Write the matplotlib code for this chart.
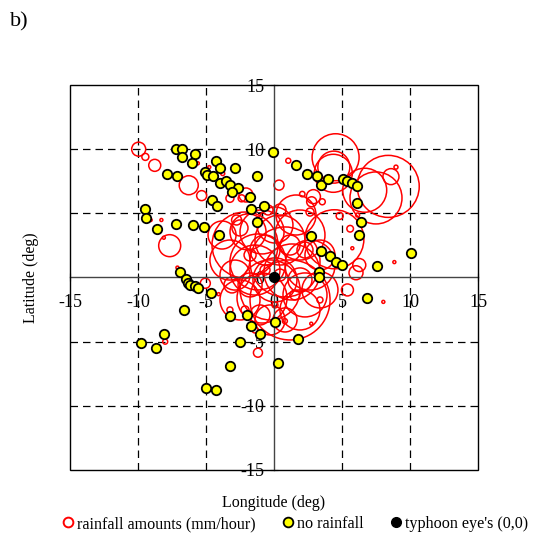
import matplotlib
matplotlib.use("Agg")
import matplotlib.pyplot as plt
from matplotlib.lines import Line2D
from matplotlib.patches import Rectangle

plt.rcParams['font.family'] = ['Liberation Serif', 'DejaVu Serif']
plt.rcParams['axes.unicode_minus'] = False

# ---- data ----
# no-rainfall observations (longitude, latitude relative to typhoon eye)
dry_lon = [-7.2, -6.8, -6.8, -5.8, -6.0, -4.3, -4.0, -2.9, -7.9, -7.1, -5.1, -4.95, -4.5, -1.25,
           -3.95, -3.55, -3.2, -2.65, -3.1, -4.55, -4.2, -1.76, -0.7, -1.7, -1.25, -9.5, -9.4,
           -8.6, -7.2, -5.96, -5.15, -4.07, -6.9, -0.1,
           -6.5, -6.3, -6.2, -5.8, -5.6, -4.65, -6.6, -3.2, -1.96, -1.7, -1.05, 0.07, -2.5,
           -8.07, -9.8, -8.7, -3.2, -5.0, -4.3, 0.3,
           1.76, 6.86, 3.3, 3.3,
           1.64, 2.43, 3.16, 3.46, 3.95, 5.1, 5.34, 5.74, 6.1, 6.1, 6.4, 6.25, 2.74, 3.43,
           4.14, 4.56, 4.98, 7.55, 10.07]
dry_lat = [10.0, 10.0, 9.4, 9.6, 8.9, 9.1, 8.5, 8.5, 8.1, 7.9, 8.2, 8.0, 7.9, 7.9,
           7.4, 7.5, 7.2, 7.0, 6.7, 6.0, 5.6, 6.3, 5.6, 5.3, 4.3, 5.3, 4.6,
           3.8, 4.2, 4.1, 3.9, 3.3, 0.4, 9.8,
           -0.14, -0.4, -0.6, -0.7, -0.8, -1.2, -2.5, -3.0, -2.9, -3.75, -4.4, -3.5, -5.0,
           -4.4, -5.1, -5.5, -6.9, -8.6, -8.8, -6.7,
           -4.8, -1.6, 0.4, 0.0,
           8.8, 8.1, 7.9, 7.2, 7.7, 7.65, 7.5, 7.4, 7.1, 5.8, 4.3, 3.3, 3.2, 2.1,
           1.7, 1.2, 0.97, 0.9, 1.9]

# rainfall observations (longitude, latitude, rainfall mm/hour)
rain_lon = [-9.95, -9.46, -8.77, -6.27, -5.32, -2.38, -2.06, -7.67, -7.1, -8.28, -9.07, -5.6,
            -4.76, -3.77, -8.1, 0.37,
            4.53, 4.36, 4.4, 8.4, 8.6, 8.97, 6.67, 7.5, 4.44, 2.9, 1.05, 2.08, 3.55, 4.83,
            6.15, 5.6, 5.76, 8.85, 6.27, 6.03, 5.4, 8.04, 2.74, 0.8, -5.05, -4.07, -8.0,
            -1.18, -2.3, -2.75, -3.24, 2.77,
            -2.13, -0.88, 1.91, 1.18, -0.29, -1.40, 0.81, 2.65, -3.24, -2.50, 3.38, 0.07,
            -3.82, 1.91, -0.66, 1.91, -1.03, 0.81, -1.76, -3.09, 1.18, 2.28, -2.50, 0.44,
            1.62, -0.44, 2.65,
            -0.66, 0.44, -1.76, 1.54, -2.13, 0.07, 3.38, -3.24, -1.40,
            -1.18, 1.32, 0.07, -0.88, 2.28, -1.91, 3.38, -2.87, 0.44, -0.29]
rain_lat = [10.0, 9.4, 8.74, 7.19, 6.38, 6.17, 6.43, 2.48, 0.77, 4.48, 4.48, 8.9,
            8.6, 8.1, 3.1, 7.2,
            9.37, 8.12, 8.6, 7.1, 7.86, 8.6, 6.8, 6.2, 2.98, 6.3, 9.1, 6.5, 5.9, 4.8,
            4.87, 3.8, 2.28, 1.2, 0.97, 0.37, -0.97, -1.9, -3.6, -3.4, -0.45, -1.3, -5.0,
            -5.86, -5.08, 4.48, 6.17, 5.9,
            2.53, 3.55, 3.31, -1.75, -0.97, 0.58, 1.21, 0.97, 1.36, -1.75, -0.97, 4.09,
            3.31, -2.53, 2.14, -0.19, -2.92, -3.31, -0.58, -0.58, 2.53, 2.14, 3.86, 5.26,
            4.87, 5.26, 5.10,
            0.58, 0.19, 1.75, -1.36, -2.53, -2.14, -1.75, -2.53, -4.09,
            1.21, 0.43, -0.19, -1.60, -1.36, 3.55, 1.75, 0.19, 2.92, -3.31]
rain_mm = [3.5, 1.75, 3.0, 4.75, 2.5, 1.75, 3.5, 5.5, 0.75, 0.75, 0.75, 0.75,
           0.75, 1.0, 0.75, 2.5,
           11.75, 9.5, 8.0, 15.5, 4.0, 1.0, 11.0, 13.0, 14.75, 3.5, 1.25, 1.35, 1.5, 1.75,
           1.0, 1.65, 0.75, 0.75, 3.25, 3.5, 3.0, 0.75, 0.75, 1.25, 2.5, 0.75, 1.25,
           2.25, 0.75, 2.5, 2.0, 2.5,
           16.5, 11.0, 12.5, 20.0, 15.0, 12.5, 17.5, 12.5, 10.0, 10.0, 9.0, 9.0,
           7.0, 10.0, 7.5, 6.0, 5.0, 6.0, 6.0, 4.0, 5.0, 4.0, 4.0, 3.0,
           10.0, 2.5, 2.0,
           2.5, 3.0, 3.0, 2.5, 2.0, 1.5, 1.5, 1.5, 1.5,
           14.0, 14.0, 11.0, 12.5, 11.0, 9.0, 7.5, 7.5, 12.5, 7.5]

eye_lon = [0.0]
eye_lat = [0.0]

ticks = [-15, -10, -5, 0, 5, 10, 15]
tick_labels = ['-15', '-10', '-5', '0', '5', '10', '15']

# ---- figure ----
fig = plt.figure(figsize=(5.34, 5.37), dpi=100)
ax = fig.add_axes([0.1311, 0.1248, 0.764, 0.7169])
ax.set_xlim(-15, 15)
ax.set_ylim(-15, 15)

# dashed grid at +-5, +-10
for v in [-10, -5, 5, 10]:
    ax.axvline(v, color='black', lw=0.9, ls=(0, (6, 4)), zorder=0)
    ax.axhline(v, color='black', lw=0.9, ls=(0, (6, 4)), zorder=0)

# axis lines at zero
ax.spines['left'].set_position('zero')
ax.spines['bottom'].set_position('zero')
ax.spines['top'].set_visible(False)
ax.spines['right'].set_visible(False)
for s in ['left', 'bottom']:
    ax.spines[s].set_color('#444444')
    ax.spines[s].set_linewidth(1.0)
frame = Rectangle((0, 0), 1, 1, transform=ax.transAxes, fill=False,
                  edgecolor='black', lw=1.0, clip_on=False, zorder=5)
ax.add_patch(frame)

ax.set_xticks(ticks)
ax.set_xticklabels(tick_labels)
ax.set_yticks(ticks)
ax.set_yticklabels(tick_labels)
ax.tick_params(axis='x', direction='inout', length=6, pad=9, labelsize=13)
ax.tick_params(axis='y', direction='inout', length=6, pad=4, labelsize=13)

sizes = [(2.88 * r) ** 2 for r in rain_mm]

ax.scatter(rain_lon, rain_lat, s=sizes, facecolors='none', edgecolors='red',
           linewidths=1.1, zorder=2)
ax.scatter(dry_lon, dry_lat, s=46, facecolors='#ffff00', edgecolors='black',
           linewidths=1.3, zorder=3)
ax.scatter(eye_lon, eye_lat, s=50, color='black', zorder=4)

ax.set_xlabel('Longitude (deg)', fontsize=11.5)
ax.set_ylabel('Latitude (deg)', fontsize=11.5)
ax.xaxis.set_label_coords(0.5, -0.065)
ax.yaxis.set_label_coords(-0.075, 0.5)

fig.text(0.018, 0.96, 'b)', fontsize=16, va='center', ha='left')

handles = [
    Line2D([], [], marker='o', ls='none', markersize=7, markerfacecolor='none',
           markeredgecolor='red', markeredgewidth=1.4, label='rainfall amounts (mm/hour)'),
    Line2D([], [], marker='o', ls='none', markersize=7, markerfacecolor='#ffff00',
           markeredgecolor='black', markeredgewidth=1.3, label='no rainfall'),
    Line2D([], [], marker='o', ls='none', markersize=7, markerfacecolor='black',
           markeredgecolor='black', label="typhoon eye's (0,0)"),
]
fig.legend(handles=handles, loc='center', bbox_to_anchor=(0.553, 0.024), ncol=3,
           frameon=False, fontsize=11.6, handlelength=0.7, handletextpad=0.2,
           columnspacing=1.65, borderaxespad=0)

fig.savefig('out.png', dpi=100)
